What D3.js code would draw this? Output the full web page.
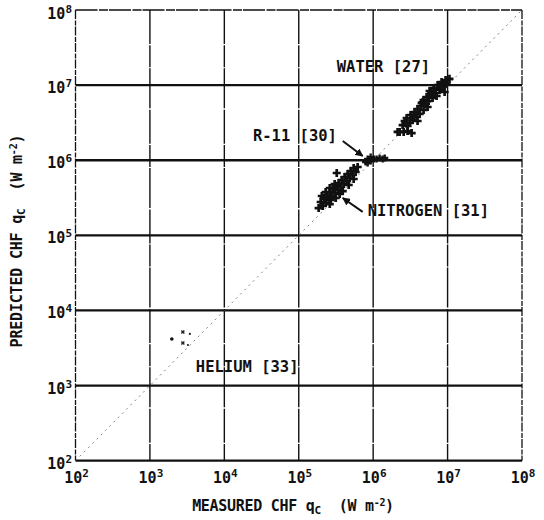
<!DOCTYPE html>
<html>
<head>
<meta charset="utf-8">
<script src="https://cdn.jsdelivr.net/npm/d3@7"></script>
<style>
  html, body { margin: 0; padding: 0; background: #fff; }
  svg { display: block; }
  text { font-family: "DejaVu Sans Mono", "Liberation Mono", monospace; font-weight: bold; fill: #111; }
</style>
</head>
<body>
<svg id="chart" width="544" height="520"></svg>
<script>
// Decade exponents shown on both log axes
const xExponents = [2, 3, 4, 5, 6, 7, 8];
const yExponents = [2, 3, 4, 5, 6, 7, 8];

// [measured, predicted] critical heat flux, W m^-2
const water = [
  [1.06e7, 1.21e7], [9.4e6, 1.17e7], [8.3e6, 1.10e7], [9.7e6, 1.04e7],
  [7.35e6, 1.00e7], [8.57e6, 9.44e6], [6.49e6, 9.16e6], [7.82e6, 8.61e6],
  [5.73e6, 8.35e6], [6.9e6, 7.85e6], [5.91e6, 7.38e6], [5.22e6, 6.95e6],
  [6.29e6, 6.74e6], [4.76e6, 6.34e6], [5.56e6, 6.15e6], [5.07e6, 5.61e6],
  [4.34e6, 5.27e6], [5.39e6, 5.11e6], [3.95e6, 4.81e6], [4.76e6, 4.67e6],
  [3.6e6, 4.38e6], [4.21e6, 4.13e6], [3.18e6, 4.0e6], [3.84e6, 3.76e6],
  [2.82e6, 3.65e6], [3.39e6, 3.43e6], [2.65e6, 3.33e6], [3.09e6, 3.13e6],
  [3.95e6, 3.33e6], [2.49e6, 2.94e6], [2.9e6, 2.86e6], [4.48e6, 5.78e6],
  [9.12e6, 8.1e6], [7.12e6, 7.16e6], [8.0e6, 9.8e6], [6.0e6, 7.9e6],
  [4.6e6, 5.9e6], [3.5e6, 3.9e6],
  [2.13e6, 2.38e6], [2.27e6, 2.38e6], [2.57e6, 2.38e6], [2.9e6, 2.45e6], [3.29e6, 2.3e6]
];

const r11 = [
  [7.92e5, 9.48e5], [8.44e5, 1.04e6], [8.44e5, 9.19e5], [9.25e5, 1.10e6],
  [9.25e5, 9.78e5], [1.02e6, 1.04e6], [1.11e6, 1.04e6], [1.22e6, 1.07e6],
  [1.34e6, 1.04e6], [1.43e6, 1.07e6]
];

const nitrogen = [
  [1.85e5, 2.31e5], [2.10e5, 2.46e5], [1.97e5, 2.78e5], [2.30e5, 2.70e5],
  [2.17e5, 3.14e5], [2.53e5, 3.05e5], [2.38e5, 3.45e5], [2.77e5, 3.34e5],
  [2.61e5, 3.78e5], [3.04e5, 3.66e5], [2.86e5, 4.14e5], [3.34e5, 4.02e5],
  [3.14e5, 4.54e5], [3.66e5, 4.40e5], [3.44e5, 4.98e5], [4.02e5, 4.83e5],
  [3.78e5, 5.46e5], [4.41e5, 5.29e5], [4.14e5, 5.98e5], [4.84e5, 5.81e5],
  [4.55e5, 6.56e5], [5.31e5, 6.36e5], [4.99e5, 7.19e5], [5.82e5, 6.97e5],
  [5.47e5, 7.88e5], [6.19e5, 8.13e5], [3.24e5, 6.76e5], [2.69e5, 2.96e5],
  [3.55e5, 3.56e5], [2.04e5, 3.34e5], [2.30e5, 3.78e5], [2.61e5, 4.27e5],
  [3.04e5, 4.83e5], [2.61e5, 2.61e5], [3.14e5, 3.14e5], [3.90e5, 3.89e5],
  [4.69e5, 4.68e5], [5.47e5, 5.62e5]
];

const heliumDots = [[1970, 4170]];
const heliumCrosses = [[2770, 5180], [2770, 3690]];
const heliumSmall = [[3440, 4870], [3240, 3470]];

// Fluid labels: text, anchor point [measured, predicted]
const labelNames = ["WATER [27]", "R-11 [30]", "NITROGEN [31]", "HELIUM [33]"];
const labelAnchors = [[3.24e5, 1.5e7], [2.42e4, 1.8e6], [8.44e5, 1.81e5], [4.14e3, 1.52e3]];

// Pointer arrows: from, to
const arrows = [
  [[3.9e5, 1.8e6], [7.23e5, 1.14e6]],
  [[7.23e5, 2.05e5], [3.9e5, 3.14e5]]
];

const svg = d3.select("#chart");
const plotLeft = 75.5, plotRight = 522, plotTop = 10, plotBottom = 460.7;

const x = d3.scaleLog().domain([1e2, 1e8]).range([plotLeft, plotRight]);
const y = d3.scaleLog().domain([1e2, 1e8]).range([plotBottom, plotTop]);

const xTicks = xExponents.map(e => Math.pow(10, e));
const yTicks = yExponents.map(e => Math.pow(10, e));

// Vertical grid lines (inner decades), lighter with small breaks
svg.append("g").selectAll("line")
  .data(xTicks.slice(1, -1)).join("line")
  .attr("x1", d => x(d)).attr("x2", d => x(d))
  .attr("y1", plotTop).attr("y2", plotBottom)
  .attr("stroke", "#111").attr("stroke-width", 1.4)
  .attr("stroke-dasharray", "34,1.2,22,1,40,1.5");

// Horizontal grid lines (inner decades) are heavier
svg.append("g").selectAll("line")
  .data(yTicks.slice(1, -1)).join("line")
  .attr("x1", plotLeft).attr("x2", plotRight)
  .attr("y1", d => y(d)).attr("y2", d => y(d))
  .attr("stroke", "#111").attr("stroke-width", 2.3);

// Frame
const frame = svg.append("g").attr("fill", "none").attr("stroke", "#111");
frame.append("line").attr("x1", plotLeft).attr("x2", plotRight).attr("y1", plotTop).attr("y2", plotTop)
  .attr("stroke-width", 1.6).attr("stroke-dasharray", "22,1.5,9,1");
frame.append("line").attr("x1", plotLeft).attr("x2", plotRight).attr("y1", plotBottom).attr("y2", plotBottom)
  .attr("stroke-width", 2.2);
frame.append("line").attr("x1", plotLeft).attr("x2", plotLeft).attr("y1", plotTop).attr("y2", plotBottom)
  .attr("stroke-width", 1.3).attr("stroke-dasharray", "9,1.5,5,1");
frame.append("line").attr("x1", plotRight).attr("x2", plotRight).attr("y1", plotTop).attr("y2", plotBottom)
  .attr("stroke-width", 1.3).attr("stroke-dasharray", "9,1.5,5,1");

// Line of perfect agreement
svg.append("line")
  .attr("x1", x(1e2)).attr("y1", y(1e2))
  .attr("x2", x(1e8)).attr("y2", y(1e8))
  .attr("stroke", "#666").attr("stroke-width", 0.8)
  .attr("stroke-dasharray", "2,4");

// Axis tick labels as 10 with a superscript exponent
const xl = svg.append("g").selectAll("text").data(xExponents).join("text")
  .attr("x", d => x(Math.pow(10, d)) + 1).attr("y", 483)
  .attr("text-anchor", "middle").attr("font-size", 15);
xl.append("tspan").text("10");
xl.append("tspan").attr("dy", -6).attr("font-size", 11).text(d => d);

const yl = svg.append("g").selectAll("text").data(yExponents).join("text")
  .attr("x", 72).attr("y", d => Math.max(y(Math.pow(10, d)) + 8, 19))
  .attr("text-anchor", "end").attr("font-size", 15);
yl.append("tspan").text("10");
yl.append("tspan").attr("dy", -6).attr("font-size", 11).text(d => d);

// Axis titles
const xt = svg.append("text").attr("x", 293).attr("y", 511)
  .attr("text-anchor", "middle").attr("font-size", 15).attr("letter-spacing", -0.3);
xt.append("tspan").text("MEASURED CHF ");
xt.append("tspan").text("q");
xt.append("tspan").attr("dy", 3).attr("font-size", 11).text("C");
xt.append("tspan").attr("dy", -3).attr("dx", 18).text("(W m");
xt.append("tspan").attr("dy", -5).attr("font-size", 10).text("-2");
xt.append("tspan").attr("dy", 5).text(")");

const yt = svg.append("text")
  .attr("transform", "translate(22,241) rotate(-90)")
  .attr("text-anchor", "middle").attr("font-size", 15).attr("letter-spacing", -0.2);
yt.append("tspan").text("PREDICTED CHF ");
yt.append("tspan").text("q");
yt.append("tspan").attr("dy", 3).attr("font-size", 11).text("C");
yt.append("tspan").attr("dy", -3).attr("dx", 18).text("(W m");
yt.append("tspan").attr("dy", -5).attr("font-size", 10).text("-2");
yt.append("tspan").attr("dy", 5).text(")");

// Data points
const crossPath = d3.symbol().type(d3.symbolCross).size(36)();
function plotSet(data, path) {
  svg.append("g").selectAll("path").data(data).join("path")
    .attr("transform", d => `translate(${x(d[0])},${y(d[1])})`)
    .attr("d", path).attr("fill", "#111");
}
plotSet(water, crossPath);
plotSet(r11, d3.symbol().type(d3.symbolCross).size(28)());
plotSet(nitrogen, crossPath);

svg.append("g").selectAll("circle").data(heliumDots).join("circle")
  .attr("cx", d => x(d[0])).attr("cy", d => y(d[1])).attr("r", 1.8).attr("fill", "#111");
svg.append("g").selectAll("path").data(heliumCrosses).join("path")
  .attr("transform", d => `translate(${x(d[0])},${y(d[1])}) rotate(45)`)
  .attr("d", d3.symbol().type(d3.symbolCross).size(10)()).attr("fill", "#222");
svg.append("g").selectAll("circle.s").data(heliumSmall).join("circle")
  .attr("cx", d => x(d[0])).attr("cy", d => y(d[1])).attr("r", 1.1).attr("fill", "#222");

// Fluid labels
svg.append("g").selectAll("text").data(labelNames).join("text")
  .attr("x", (d, i) => x(labelAnchors[i][0]))
  .attr("y", (d, i) => y(labelAnchors[i][1]))
  .attr("font-size", 15.5)
  .text(d => d);

// Pointer arrows
svg.append("defs").append("marker")
  .attr("id", "head").attr("viewBox", "0 0 10 10").attr("refX", 9).attr("refY", 5)
  .attr("markerWidth", 4).attr("markerHeight", 4).attr("orient", "auto")
  .append("path").attr("d", "M0,0L10,5L0,10Z").attr("fill", "#111");
svg.append("g").selectAll("line").data(arrows).join("line")
  .attr("x1", d => x(d[0][0])).attr("y1", d => y(d[0][1]))
  .attr("x2", d => x(d[1][0])).attr("y2", d => y(d[1][1]))
  .attr("stroke", "#111").attr("stroke-width", 2)
  .attr("marker-end", "url(#head)");
</script>
</body>
</html>
